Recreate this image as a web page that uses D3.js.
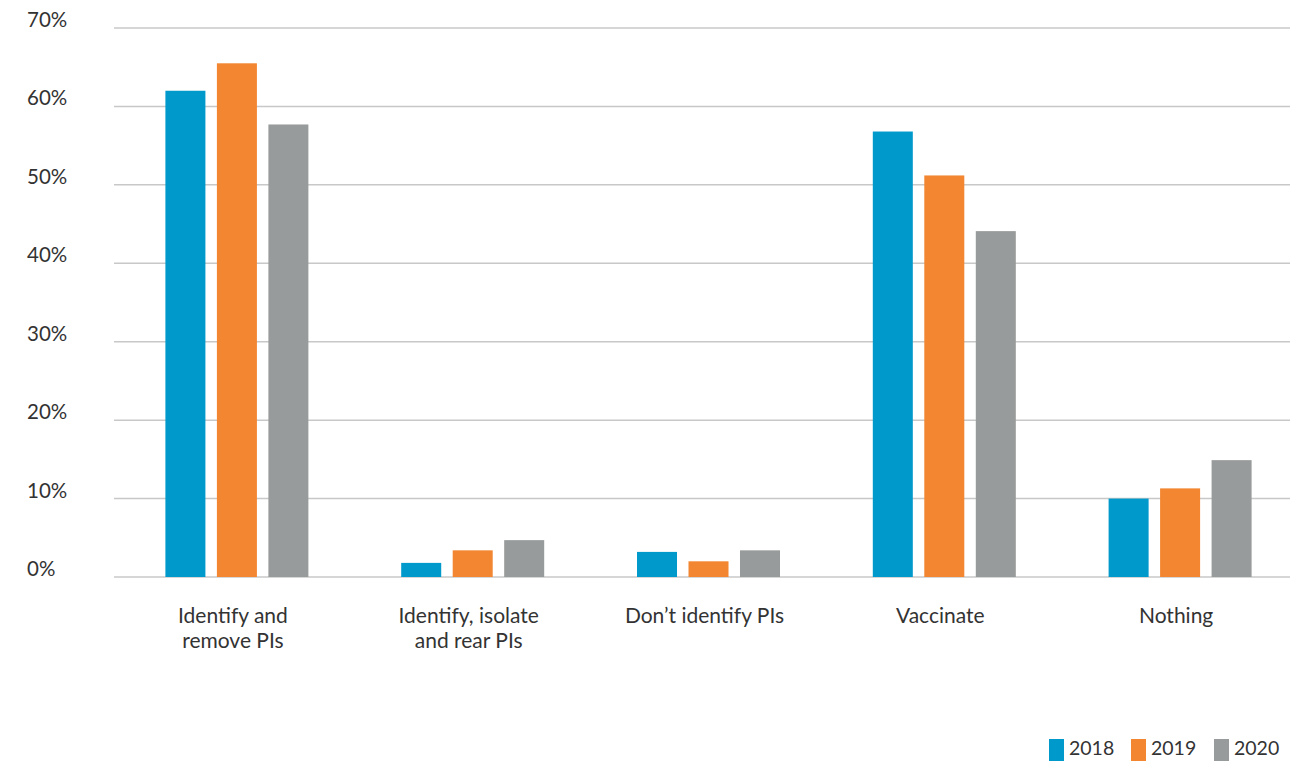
<!DOCTYPE html>
<html>
<head>
<meta charset="utf-8">
<script src="https://cdn.jsdelivr.net/npm/d3@7/dist/d3.min.js"></script>
<style>
  html, body { margin: 0; padding: 0; background: #fff; }
  svg { display: block; font-family: Lato, "Open Sans", sans-serif; }
</style>
</head>
<body>
<svg id="chart" width="1313" height="762"></svg>
<script>
const categories = [
  ["Identify and", "remove PIs"],
  ["Identify, isolate", "and rear PIs"],
  ["Don\u2019t identify PIs"],
  ["Vaccinate"],
  ["Nothing"]
];
const years = ["2018", "2019", "2020"];
const values2018 = [62.0, 1.8, 3.2, 56.8, 10.0];
const values2019 = [65.5, 3.4, 2.0, 51.2, 11.3];
const values2020 = [57.7, 4.7, 3.4, 44.1, 14.9];
const yTicks = [0, 10, 20, 30, 40, 50, 60, 70];
const colors = ["#0099cc", "#f38630", "#989b9b"];

const series = [values2018, values2019, values2020];
const svg = d3.select("#chart");

const y = d3.scaleLinear().domain([0, 70]).range([577, 28]);
const x0 = d3.scaleBand().domain(d3.range(categories.length)).range([119, 1298]).padding(0);
const x1 = d3.scaleBand().domain(years).range([0, 143]).paddingInner(0.223).paddingOuter(0);

// gridlines
const grid = svg.append("g");
grid.selectAll("line").data(yTicks).join("line")
  .attr("x1", 114).attr("x2", 1290)
  .attr("y1", d => y(d)).attr("y2", d => y(d))
  .attr("stroke", "#c8c8c8").attr("stroke-width", 1.5);

// y labels
svg.append("g").selectAll("text").data(yTicks).join("text")
  .attr("x", 27).attr("y", d => y(d) - 1)
  .attr("font-size", 20.5).attr("fill", "#333")
  .text(d => d + "%");

// bars
const groups = svg.append("g").selectAll("g").data(categories.map((c, i) => i)).join("g")
  .attr("transform", i => `translate(${x0(i) + x0.bandwidth() / 2 - 71.5},0)`);
groups.selectAll("rect").data(i => years.map((yr, k) => ({ yr, k, v: series[k][i] }))).join("rect")
  .attr("x", d => x1(d.yr)).attr("width", x1.bandwidth())
  .attr("y", d => y(d.v)).attr("height", d => y(0) - y(d.v))
  .attr("fill", d => colors[d.k]);

// category labels
const lab = svg.append("g").selectAll("text").data(categories).join("text")
  .attr("text-anchor", "middle")
  .attr("font-size", 21).attr("fill", "#333")
  .attr("transform", (c, i) => `translate(${x0(i) + x0.bandwidth() / 2 - 4},623)`);
lab.selectAll("tspan").data(c => c).join("tspan")
  .attr("x", 0).attr("dy", (d, j) => j === 0 ? 0 : 25)
  .text(d => d);

// legend
const legendX = [1049, 1131, 1214];
const lg = svg.append("g").selectAll("g").data(years).join("g")
  .attr("transform", (d, k) => `translate(${legendX[k]},739)`);
lg.append("rect").attr("width", 15).attr("height", 22).attr("fill", (d, k) => colors[k]);
lg.append("text").attr("x", 20).attr("y", 16)
  .attr("font-size", 19.5).attr("fill", "#333").text(d => d);
</script>
</body>
</html>
